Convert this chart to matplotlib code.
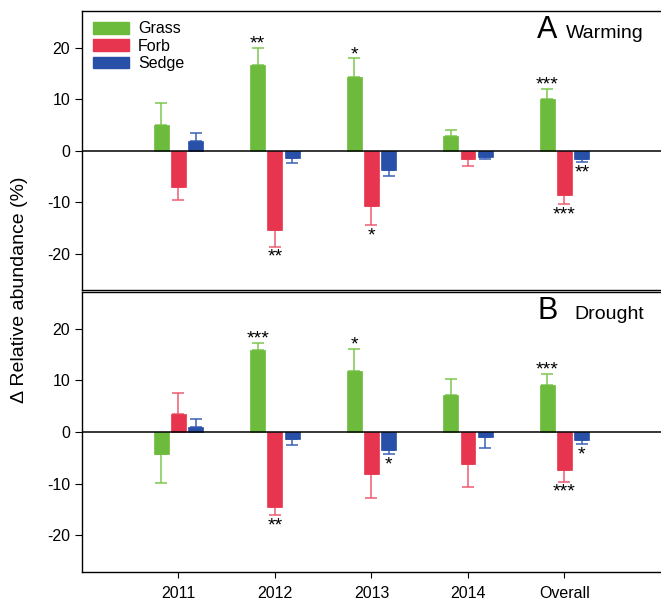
import numpy as np
import matplotlib
matplotlib.use('Agg')
from matplotlib import pyplot as plt
from matplotlib.patches import Patch

plt.rcParams['font.family'] = ['Liberation Sans', 'DejaVu Sans']
plt.rcParams['axes.unicode_minus'] = False

years = ['2011', '2012', '2013', '2014', 'Overall']
groups = ['Grass', 'Forb', 'Sedge']

# Warming panel: means and error bar lengths
warm_grass = [5.0, 16.7, 14.3, 2.8, 10.1]
warm_grass_err = [4.2, 3.2, 3.6, 1.3, 1.9]
warm_forb = [-7.0, -15.4, -10.8, -1.7, -8.6]
warm_forb_err = [2.5, 3.2, 3.7, 1.2, 1.8]
warm_sedge = [1.9, -1.35, -3.7, -1.2, -1.55]
warm_sedge_err = [1.6, 1.1, 1.3, 0.5, 0.65]

# Drought panel
dry_grass = [-4.2, 15.9, 11.7, 7.2, 9.0]
dry_grass_err = [5.6, 1.4, 4.4, 3.0, 2.2]
dry_forb = [3.5, -14.45, -8.1, -6.2, -7.4]
dry_forb_err = [4.1, 1.65, 4.7, 4.4, 2.2]
dry_sedge = [1.0, -1.4, -3.4, -0.9, -1.55]
dry_sedge_err = [1.5, 1.1, 0.9, 2.2, 0.75]

# significance stars: (year index, group index, label)
warm_stars = [(1, 0, '**'), (1, 1, '**'), (2, 0, '*'), (2, 1, '*'),
              (4, 0, '***'), (4, 1, '***'), (4, 2, '**')]
dry_stars = [(1, 0, '***'), (1, 1, '**'), (2, 0, '*'), (2, 2, '*'),
             (4, 0, '***'), (4, 1, '***'), (4, 2, '*')]

bar_colors = ['#6cbb3c', '#e8354f', '#2850a8']
err_colors = ['#7cc650', '#ee5c70', '#3a60b8']


def draw_panel(ax, means, errs, stars, letter, name):
    x = np.arange(1, len(years) + 1)
    offset = 0.18
    width = 0.155
    for k in range(3):
        m = np.array(means[k])
        e = np.array(errs[k])
        pos = x + (k - 1) * offset
        ax.bar(pos, m, width, color=bar_colors[k], edgecolor=bar_colors[k],
               linewidth=0.5, zorder=2)
        # one-sided error bars, pointing away from zero
        lower = np.where(m < 0, e, 0)
        upper = np.where(m >= 0, e, 0)
        ax.errorbar(pos, m, yerr=[lower, upper], fmt='none',
                    ecolor=err_colors[k], elinewidth=1.1, capsize=4.6,
                    capthick=1.1, zorder=1)
    for i, k, lab in stars:
        m = means[k][i]
        e = errs[k][i]
        pos = x[i] + (k - 1) * offset
        if m >= 0:
            ax.annotate(lab, (pos, m + e), xytext=(0, -0.5),
                        textcoords='offset points', ha='center',
                        va='baseline', fontsize=14)
        else:
            ax.annotate(lab, (pos, m - e), xytext=(0, -11),
                        textcoords='offset points', ha='center',
                        va='baseline', fontsize=14)
    ax.axhline(0, color='black', linewidth=1.1, zorder=3)
    ax.set_xlim(0, 6)
    ax.set_ylim(-27, 27)
    ax.set_yticks([-20, -10, 0, 10, 20])
    ax.tick_params(axis='y', labelsize=11.5, length=5, direction='out')
    ax.spines['right'].set_visible(False)
    for s in ['top', 'left', 'bottom']:
        ax.spines[s].set_linewidth(1.0)
    ax.text(0.786, 0.905, letter, transform=ax.transAxes, fontsize=22,
            ha='left', va='baseline')
    ax.text(0.835 if letter == 'A' else 0.850, 0.905, name,
            transform=ax.transAxes, fontsize=14, ha='left', va='baseline')


fig = plt.figure(figsize=(6.61, 6.04), dpi=100)
ax1 = fig.add_axes([0.124, 0.520, 0.876, 0.461])
ax2 = fig.add_axes([0.124, 0.0535, 0.876, 0.4625])

draw_panel(ax1, [warm_grass, warm_forb, warm_sedge],
           [warm_grass_err, warm_forb_err, warm_sedge_err],
           warm_stars, 'A', 'Warming')
draw_panel(ax2, [dry_grass, dry_forb, dry_sedge],
           [dry_grass_err, dry_forb_err, dry_sedge_err],
           dry_stars, 'B', 'Drought')

ax1.set_xticks([])
ax2.set_xticks(np.arange(1, len(years) + 1))
ax2.set_xticklabels(years)
ax2.tick_params(axis='x', labelsize=11.5, length=4, direction='out', pad=6)

handles = [Patch(facecolor=c, edgecolor=c) for c in bar_colors]
ax1.legend(handles, groups, loc='upper left', bbox_to_anchor=(-0.001, 1.005),
           frameon=False, fontsize=11.5, handlelength=2.3, handleheight=0.75,
           handletextpad=0.55, labelspacing=0.15, borderpad=0.2)

fig.text(0.03, 0.52, '\u0394 Relative abundance (%)', rotation=90,
         ha='center', va='center', fontsize=14)

fig.savefig('out.png', dpi=100)
